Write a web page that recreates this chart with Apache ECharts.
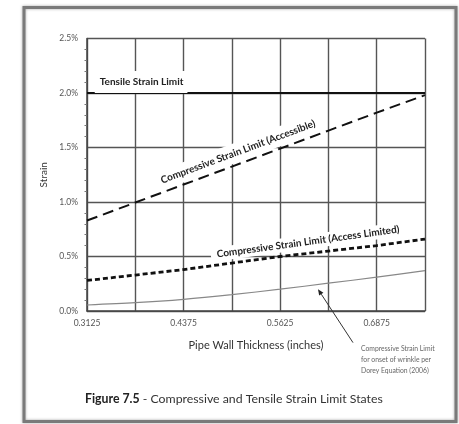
<!DOCTYPE html>
<html>
<head>
<meta charset="utf-8">
<script src="https://cdn.jsdelivr.net/npm/echarts@6/dist/echarts.min.js"></script>
<style>
  html, body { margin: 0; padding: 0; background: #ffffff; }
  #chart { width: 459px; height: 424px; }
</style>
</head>
<body>
<div id="chart"></div>
<script>
// Pipe wall thickness (inches) at each vertical gridline
const thickness = [0.3125, 0.375, 0.4375, 0.5, 0.5625, 0.625, 0.6875, 0.75];
// Strain limits, in percent
const tensileLimit = [2.0, 2.0, 2.0, 2.0, 2.0, 2.0, 2.0, 2.0];
const compAccessible = [0.83, 0.995, 1.16, 1.325, 1.49, 1.655, 1.82, 1.98];
const compLimited = [0.28, 0.33, 0.38, 0.44, 0.50, 0.55, 0.60, 0.66];
const doreyWrinkle = [0.055, 0.076, 0.107, 0.15, 0.20, 0.255, 0.31, 0.37];
// Axis labels
const xTickLabels = ['0.3125', '0.4375', '0.5625', '0.6875'];
const yTickLabels = ['0.0%', '0.5%', '1.0%', '1.5%', '2.0%', '2.5%'];

const FONT = 'Lato, "Open Sans", sans-serif';

const pairs = (ys) => thickness.map((x, i) => [x, ys[i]]);

function lineLabel(text, coord, rotate, pad) {
  return {
    symbol: 'circle',
    symbolSize: 1,
    itemStyle: { color: 'rgba(0,0,0,0)' },
    label: { show: false },
    data: [{
      coord: coord,
      label: {
        show: true,
        position: 'inside',
        formatter: text,
        rotate: rotate,
        color: '#222',
        fontFamily: FONT,
        fontWeight: 'bold',
        fontSize: 10,
        backgroundColor: '#ffffff',
        padding: pad
      }
    }],
    silent: true,
    animation: false
  };
}

const chart = echarts.init(document.getElementById('chart'), null, { renderer: 'canvas' });

const option = {
  animation: false,
  backgroundColor: '#ffffff',
  title: {
    text: '{b|Figure 7.5} - Compressive and Tensile Strain Limit States',
    left: 85,
    top: 393,
    padding: 0,
    textStyle: {
      fontFamily: FONT,
      fontSize: 12.3,
      fontWeight: 'normal',
      color: '#333',
      rich: {
        b: { fontFamily: FONT, fontSize: 12.3, fontWeight: 'bold', color: '#222' }
      }
    }
  },
  grid: { left: 87, right: 34, top: 38.5, bottom: 113, containLabel: false },
  xAxis: {
    type: 'value',
    min: 0.3125,
    max: 0.75,
    interval: 0.0625,
    name: 'Pipe Wall Thickness (inches)',
    nameLocation: 'middle',
    nameGap: 29,
    nameTextStyle: { fontFamily: FONT, fontSize: 11, color: '#333' },
    axisLine: { show: true, lineStyle: { color: '#444', width: 1.5 } },
    axisTick: { show: false },
    axisLabel: {
      margin: 8,
      fontFamily: FONT,
      fontSize: 8.5,
      color: '#555',
      formatter: (v) => {
        const s = v.toFixed(4);
        return xTickLabels.indexOf(s) >= 0 ? s : '';
      }
    },
    splitLine: { show: true, lineStyle: { color: '#555', width: 1.4 } }
  },
  yAxis: {
    type: 'value',
    min: 0,
    max: 2.5,
    interval: 0.5,
    name: 'Strain',
    nameLocation: 'middle',
    nameGap: 31,
    nameTextStyle: { fontFamily: FONT, fontSize: 10, color: '#333' },
    axisLine: { show: true, lineStyle: { color: '#444', width: 1.5 } },
    axisTick: { show: false },
    minorTick: { show: true, splitNumber: 5, length: 2.5, lineStyle: { color: '#777' } },
    axisLabel: {
      margin: 9,
      fontFamily: FONT,
      fontSize: 8.5,
      color: '#555',
      formatter: (v) => yTickLabels[Math.round(v / 0.5)]
    },
    splitLine: { show: true, lineStyle: { color: '#555', width: 1.4 } }
  },
  series: [
    {
      name: 'Tensile Strain Limit',
      type: 'line',
      data: pairs(tensileLimit),
      showSymbol: false,
      lineStyle: { color: '#111', width: 2.2 },
      z: 3,
      markPoint: lineLabel('Tensile Strain Limit', [0.3825, 2.10], 0, [9, 4, 3, 5])
    },
    {
      name: 'Compressive Strain Limit (Accessible)',
      type: 'line',
      data: pairs(compAccessible),
      showSymbol: false,
      lineStyle: { color: '#111', width: 2, type: [11, 6] },
      z: 3,
      markPoint: lineLabel('Compressive Strain Limit (Accessible)', [0.508, 1.46], 20.5, [5, 6, 4, 6])
    },
    {
      name: 'Compressive Strain Limit (Access Limited)',
      type: 'line',
      data: pairs(compLimited),
      showSymbol: false,
      lineStyle: { color: '#111', width: 2.8, type: [5, 3] },
      z: 3,
      markPoint: lineLabel('Compressive Strain Limit (Access Limited)', [0.5986, 0.635], 7.8, [3, 6, 1, 6])
    },
    {
      name: 'Dorey Equation (2006)',
      type: 'line',
      data: pairs(doreyWrinkle),
      showSymbol: false,
      smooth: 0.3,
      lineStyle: { color: '#888', width: 1.2 },
      z: 2
    }
  ]
};

chart.setOption(option);

// Call-out arrow and note for the wrinkle curve, anchored in data space
const arrowTip = chart.convertToPixel({ gridIndex: 0 }, [0.6115, 0.20]);
const arrowTail = chart.convertToPixel({ gridIndex: 0 }, [0.6568, -0.29]);
const noteAnchor = chart.convertToPixel({ gridIndex: 0 }, [0.6672, -0.30]);

const dx = arrowTip[0] - arrowTail[0];
const dy = arrowTip[1] - arrowTail[1];
const len = Math.sqrt(dx * dx + dy * dy);
const ux = dx / len, uy = dy / len;
const headLen = 6, headHalf = 2.5;
const base = [arrowTip[0] - ux * headLen, arrowTip[1] - uy * headLen];

chart.setOption({
  graphic: [
    {
      type: 'rect',
      shape: { x: 24, y: 7.5, width: 432, height: 414 },
      style: { fill: 'none', stroke: '#7a7a7a', lineWidth: 3, shadowBlur: 3, shadowColor: 'rgba(0,0,0,0.35)' },
      silent: true, z: 10
    },
    {
      type: 'line',
      shape: { x1: arrowTail[0], y1: arrowTail[1], x2: base[0], y2: base[1] },
      style: { stroke: '#333', lineWidth: 1 },
      silent: true, z: 10
    },
    {
      type: 'polygon',
      shape: {
        points: [
          arrowTip,
          [base[0] - uy * headHalf, base[1] + ux * headHalf],
          [base[0] + uy * headHalf, base[1] - ux * headHalf]
        ]
      },
      style: { fill: '#222' },
      silent: true, z: 10
    },
    {
      type: 'text',
      x: noteAnchor[0],
      y: noteAnchor[1],
      style: {
        text: 'Compressive Strain Limit\nfor onset of wrinkle per\nDorey Equation (2006)',
        fontFamily: FONT,
        fontSize: 6.8,
        lineHeight: 11,
        fill: '#666',
        align: 'left',
        verticalAlign: 'top'
      },
      silent: true, z: 10
    }
  ]
});
</script>
</body>
</html>
